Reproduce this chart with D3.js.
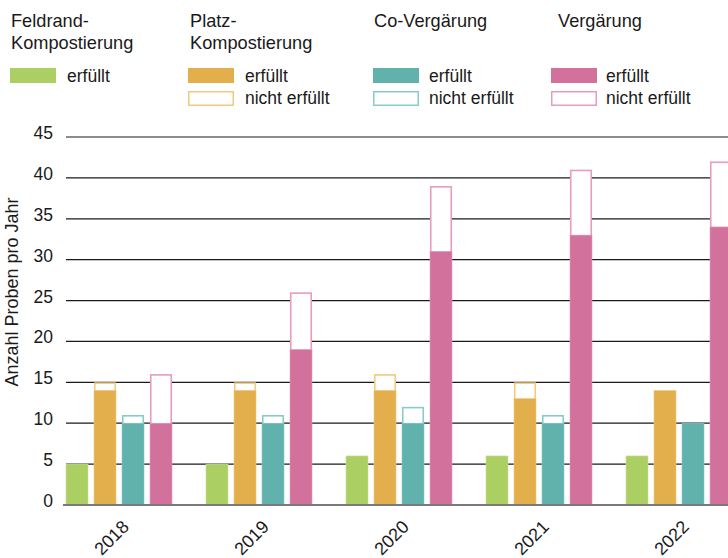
<!DOCTYPE html>
<html>
<head>
<meta charset="utf-8">
<script src="https://cdn.jsdelivr.net/npm/d3@7"></script>
<style>
  html, body { margin: 0; padding: 0; background: #fff; }
  svg { display: block; font-family: "Liberation Sans", Arial, Helvetica, sans-serif; }
</style>
</head>
<body>
<svg id="chart" width="728" height="558"></svg>
<script>
const years = ["2018", "2019", "2020", "2021", "2022"];
const categories = ["Feldrand-Kompostierung", "Platz-Kompostierung", "Co-Vergärung", "Vergärung"];
const titleLines = [["Feldrand-", "Kompostierung"], ["Platz-", "Kompostierung"], ["Co-Vergärung"], ["Vergärung"]];

const feldrandErfuellt = [5, 5, 6, 6, 6];
const feldrandNicht    = [0, 0, 0, 0, 0];
const platzErfuellt    = [14, 14, 14, 13, 14];
const platzNicht       = [1, 1, 2, 2, 0];
const coErfuellt       = [10, 10, 10, 10, 10];
const coNicht          = [1, 1, 2, 1, 0];
const vergErfuellt     = [10, 19, 31, 33, 34];
const vergNicht        = [6, 7, 8, 8, 8];

const yTicks = [0, 5, 10, 15, 20, 25, 30, 35, 40, 45];
const hasNicht = [false, true, true, true];

const fillColors   = ["#abcf62", "#e3ae4c", "#61b1ac", "#d3719d"];
const strokeColors = ["#c9e29a", "#f1c97f", "#86ccc8", "#e89bbf"];

const erfuellt = [feldrandErfuellt, platzErfuellt, coErfuellt, vergErfuellt];
const nicht = [feldrandNicht, platzNicht, coNicht, vergNicht];

const svg = d3.select("#chart");
const FONT = 17.5;
const LFONT = 18.2;

const y = d3.scaleLinear().domain([0, 45]).range([505, 137]);
const x0 = d3.scaleBand().domain(years).range([66, 732]).paddingInner(34 / 140).paddingOuter(0);
const x1 = d3.scaleBand().domain(categories).range([0, x0.bandwidth()]).paddingInner(6 / 28).paddingOuter(0);

// gridlines
svg.append("g").selectAll("line").data(yTicks.filter(t => t > 0)).join("line")
  .attr("x1", 66).attr("x2", 728)
  .attr("y1", d => y(d)).attr("y2", d => y(d))
  .attr("stroke", "#1a1a1a").attr("stroke-width", 1.2);

// y tick labels
svg.append("g").selectAll("text").data(yTicks).join("text")
  .attr("x", 53).attr("y", d => y(d) + 2)
  .attr("text-anchor", "end")
  .attr("font-size", FONT).attr("fill", "#1a1a1a")
  .text(d => d);

// y title
svg.append("text")
  .attr("transform", "translate(18,292) rotate(-90)")
  .attr("text-anchor", "middle")
  .attr("font-size", 18).attr("fill", "#1a1a1a")
  .text("Anzahl Proben pro Jahr");

// bars
const groups = svg.append("g").selectAll("g").data(years).join("g")
  .attr("transform", d => `translate(${x0(d)},0)`);

groups.each(function(year, yi) {
  const g = d3.select(this);
  categories.forEach((cat, ci) => {
    const e = erfuellt[ci][yi];
    const n = nicht[ci][yi];
    const bx = x1(cat);
    const bw = x1.bandwidth();
    if (n > 0) {
      g.append("rect")
        .attr("x", bx + 0.75).attr("width", bw - 1.5)
        .attr("y", y(e + n) + 0.75).attr("height", y(e) - y(e + n))
        .attr("fill", "#fff")
        .attr("stroke", strokeColors[ci]).attr("stroke-width", 1.6);
    }
    g.append("rect")
      .attr("x", bx).attr("width", bw)
      .attr("y", y(e)).attr("height", y(0) - y(e))
      .attr("fill", fillColors[ci])
      .attr("stroke", strokeColors[ci]).attr("stroke-width", 0.6);
  });
});

// zero line
svg.append("line")
  .attr("x1", 63).attr("x2", 728)
  .attr("y1", y(0)).attr("y2", y(0))
  .attr("stroke", "#7a7a7a").attr("stroke-width", 2);

// year labels
svg.append("g").selectAll("text").data(years).join("text")
  .attr("transform", d => `translate(${x0(d) + x0.bandwidth() / 2 + 11},528) rotate(-45)`)
  .attr("text-anchor", "end")
  .attr("font-size", 18).attr("fill", "#1a1a1a")
  .text(d => d);

// legend
const legX = [11, 190, 374, 558];
const swX = [10, 188, 373, 551];
const lblX = [67, 245, 429, 606];
const legend = svg.append("g");
categories.forEach((cat, ci) => {
  titleLines[ci].forEach((line, li) => {
    legend.append("text")
      .attr("x", legX[ci]).attr("y", 27 + li * 22)
      .attr("font-size", LFONT).attr("fill", "#1a1a1a")
      .text(line);
  });
  legend.append("rect")
    .attr("x", swX[ci]).attr("y", 68).attr("width", 46).attr("height", 15)
    .attr("fill", fillColors[ci]);
  legend.append("text")
    .attr("x", lblX[ci]).attr("y", 82)
    .attr("font-size", FONT).attr("fill", "#1a1a1a")
    .text("erfüllt");
  if (hasNicht[ci]) {
    legend.append("rect")
      .attr("x", swX[ci] + 0.75).attr("y", 91.75).attr("width", 44.5).attr("height", 13.5)
      .attr("fill", "#fff")
      .attr("stroke", strokeColors[ci]).attr("stroke-width", 1.5);
    legend.append("text")
      .attr("x", lblX[ci]).attr("y", 104)
      .attr("font-size", FONT).attr("fill", "#1a1a1a")
      .text("nicht erfüllt");
  }
});
</script>
</body>
</html>
